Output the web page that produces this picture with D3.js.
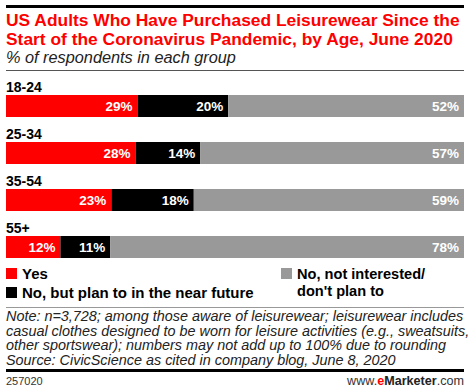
<!DOCTYPE html>
<html><head><meta charset="utf-8">
<script src="https://cdn.jsdelivr.net/npm/d3@7"></script>
<style>
body{margin:0;background:#fff;}
svg{display:block;font-family:"Liberation Sans",Arial,sans-serif;}
</style></head>
<body>
<svg id="c" width="470" height="392"></svg>
<script>
const categories = ["18-24","25-34","35-54","55+"];
const seriesNames = ["Yes","No, but plan to in the near future","No, not interested/ don't plan to"];
const yes = [29,28,23,12];
const planTo = [20,14,18,11];
const notInterested = [52,57,59,78];
const colors = ["#ff0000","#000000","#999999"];

const svg = d3.select("#c");
const L = 6, R = 464;

// top rule
svg.append("rect").attr("x",L).attr("y",5).attr("width",R-L).attr("height",3).attr("fill","#000");
// title
const title = svg.append("text").attr("fill","#ff0000").attr("font-weight","bold").attr("font-size",17.4);
title.append("tspan").attr("x",L).attr("y",26).text("US Adults Who Have Purchased Leisurewear Since the");
title.append("tspan").attr("x",L).attr("y",45).text("Start of the Coronavirus Pandemic, by Age, June 2020");
svg.append("text").attr("x",L).attr("y",63).attr("font-style","italic").attr("font-size",16.3).attr("fill","#222")
  .text("% of respondents in each group");
svg.append("rect").attr("x",L).attr("y",70).attr("width",R-L).attr("height",1).attr("fill","#555");

// data
const rows = categories.map((c,i)=>({cat:c, vals:[yes[i],planTo[i],notInterested[i]]}));
const y = d3.scaleBand().domain(categories).range([95,95+4*47]).paddingInner(0).paddingOuter(0);
const barH = 22;

rows.forEach((r)=>{
  const total = d3.sum(r.vals);
  const x = d3.scaleLinear().domain([0,total]).range([L,R]);
  const y0 = y(r.cat);
  svg.append("text").attr("x",L).attr("y",y0-3).attr("font-weight","bold").attr("font-size",14).attr("fill","#000").text(r.cat);
  let acc = 0;
  r.vals.forEach((v,j)=>{
    const x0 = x(acc), x1 = x(acc+v);
    svg.append("rect").attr("x",x0).attr("y",y0).attr("width",x1-x0).attr("height",barH).attr("fill",colors[j]);
    svg.append("text").attr("x",x1-5).attr("y",y0+16).attr("text-anchor","end")
      .attr("font-weight","bold").attr("font-size",13.5).attr("fill","#fff").text(v+"%");
    acc += v;
  });
});

// legend
const lg = svg.append("g").attr("font-weight","bold").attr("font-size",15).attr("fill","#000");
lg.append("rect").attr("x",6).attr("y",268).attr("width",11).attr("height",11).attr("fill",colors[0]);
lg.append("text").attr("x",22).attr("y",279).text(seriesNames[0]);
lg.append("rect").attr("x",6).attr("y",287).attr("width",11).attr("height",11).attr("fill",colors[1]);
lg.append("text").attr("x",22).attr("y",298).text(seriesNames[1]);
lg.append("rect").attr("x",281).attr("y",268).attr("width",11).attr("height",11).attr("fill",colors[2]);
lg.append("text").attr("x",297).attr("y",278.5).attr("font-size",14.6).text("No, not interested/");
lg.append("text").attr("x",297).attr("y",295.5).attr("font-size",14.6).text("don't plan to");

svg.append("rect").attr("x",L).attr("y",307).attr("width",R-L).attr("height",1).attr("fill","#999");
const notes = ["Note: n=3,728; among those aware of leisurewear; leisurewear includes",
 "casual clothes designed to be worn for leisure activities (e.g., sweatsuits,",
 "other sportswear); numbers may not add up to 100% due to rounding",
 "Source: CivicScience as cited in company blog, June 8, 2020"];
const nt = svg.append("text").attr("font-style","italic").attr("font-size",14.4).attr("fill","#222");
notes.forEach((t,i)=>nt.append("tspan").attr("x",L).attr("y",321+i*14.5).text(t));

svg.append("rect").attr("x",L).attr("y",369).attr("width",R-L).attr("height",3).attr("fill","#000");
svg.append("text").attr("x",L).attr("y",385).attr("font-size",11).attr("fill","#333").text("257020");
const em = svg.append("text").attr("x",R).attr("y",385).attr("text-anchor","end").attr("font-size",12.6).attr("fill","#333");
em.append("tspan").text("www.");
em.append("tspan").attr("fill","#ff0000").attr("font-weight","bold").text("e");
em.append("tspan").attr("font-weight","bold").attr("fill","#222").text("Marketer");
em.append("tspan").text(".com");
</script>
</body></html>
